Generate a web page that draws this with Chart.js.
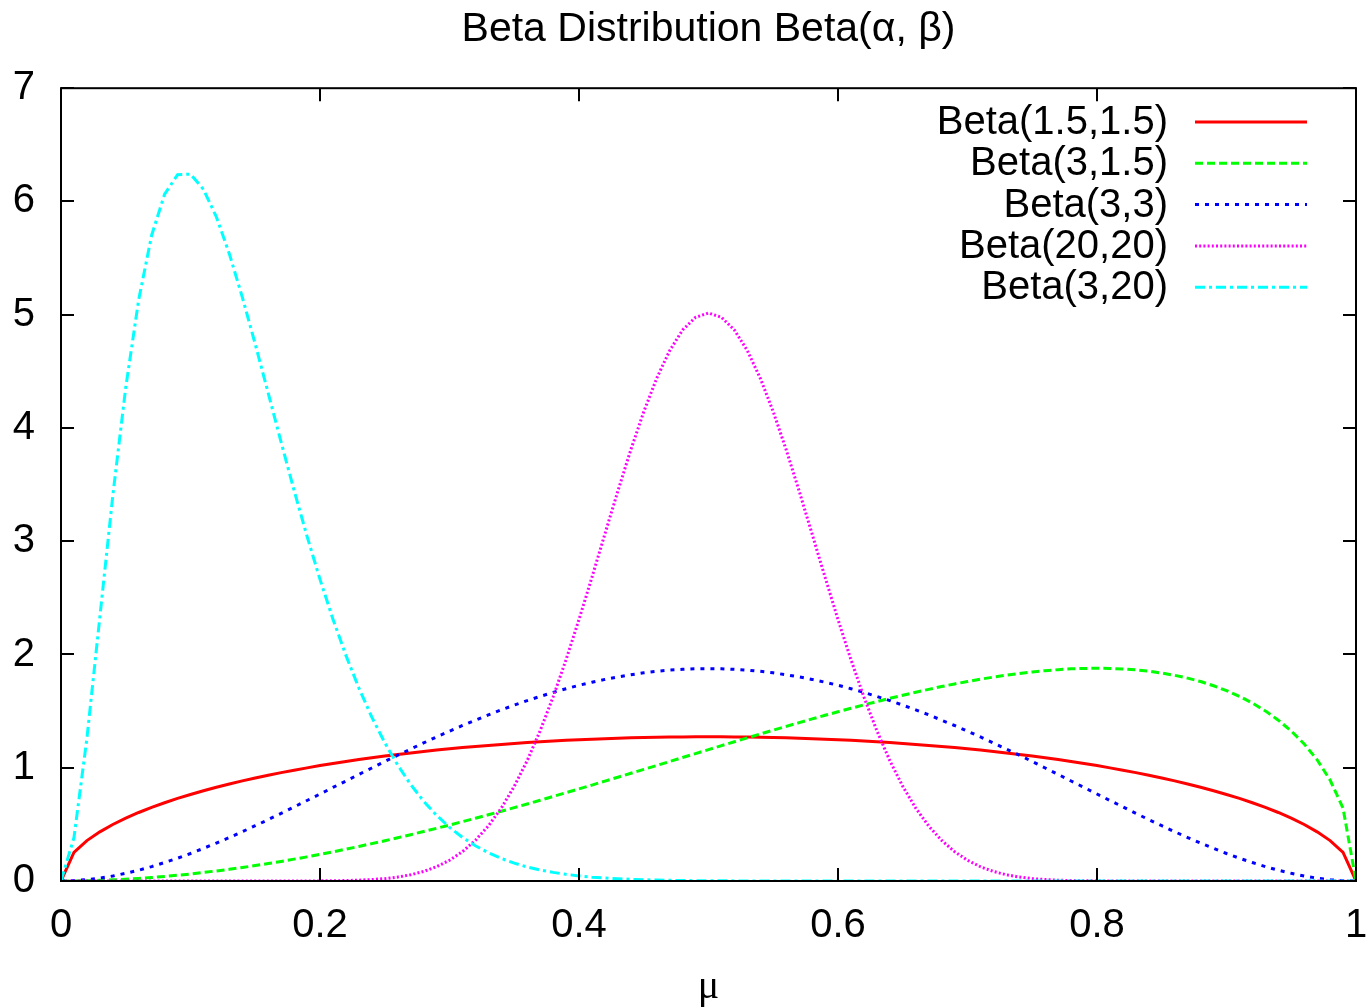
<!DOCTYPE html>
<html>
<head>
<meta charset="utf-8">
<script src="https://cdn.jsdelivr.net/npm/chart.js@4.4.1/dist/chart.umd.min.js"></script>
<style>
  html, body { margin: 0; padding: 0; background: #fff; }
  #wrap { width: 1369px; height: 1007px; }
</style>
</head>
<body>
<div id="wrap"><canvas id="betaChart" width="1369" height="1007"></canvas></div>
<script>
// x positions (mu), step 0.01
const mu = [
  0, 0.01, 0.02, 0.03, 0.04, 0.05, 0.06, 0.07, 0.08, 0.09,
  0.10, 0.11, 0.12, 0.13, 0.14, 0.15, 0.16, 0.17, 0.18, 0.19,
  0.20, 0.21, 0.22, 0.23, 0.24, 0.25, 0.26, 0.27, 0.28, 0.29,
  0.30, 0.31, 0.32, 0.33, 0.34, 0.35, 0.36, 0.37, 0.38, 0.39,
  0.40, 0.41, 0.42, 0.43, 0.44, 0.45, 0.46, 0.47, 0.48, 0.49,
  0.50, 0.51, 0.52, 0.53, 0.54, 0.55, 0.56, 0.57, 0.58, 0.59,
  0.60, 0.61, 0.62, 0.63, 0.64, 0.65, 0.66, 0.67, 0.68, 0.69,
  0.70, 0.71, 0.72, 0.73, 0.74, 0.75, 0.76, 0.77, 0.78, 0.79,
  0.80, 0.81, 0.82, 0.83, 0.84, 0.85, 0.86, 0.87, 0.88, 0.89,
  0.90, 0.91, 0.92, 0.93, 0.94, 0.95, 0.96, 0.97, 0.98, 0.99,
  1.00
];

const beta1515 = [
  0, 0.253, 0.357, 0.434, 0.499, 0.555, 0.605, 0.650, 0.691, 0.729,
  0.764, 0.797, 0.828, 0.856, 0.884, 0.909, 0.934, 0.957, 0.978, 0.999,
  1.019, 1.037, 1.055, 1.072, 1.088, 1.103, 1.117, 1.131, 1.143, 1.156,
  1.167, 1.178, 1.188, 1.197, 1.206, 1.215, 1.222, 1.230, 1.236, 1.242,
  1.248, 1.252, 1.257, 1.261, 1.264, 1.267, 1.269, 1.271, 1.272, 1.273,
  1.273, 1.273, 1.272, 1.271, 1.269, 1.267, 1.264, 1.261, 1.257, 1.252,
  1.248, 1.242, 1.236, 1.230, 1.222, 1.215, 1.206, 1.197, 1.188, 1.178,
  1.167, 1.156, 1.143, 1.131, 1.117, 1.103, 1.088, 1.072, 1.055, 1.037,
  1.019, 0.999, 0.978, 0.957, 0.934, 0.909, 0.884, 0.856, 0.828, 0.797,
  0.764, 0.729, 0.691, 0.650, 0.605, 0.555, 0.499, 0.434, 0.357, 0.253,
  0
];

const beta315 = [
  0, 0.001, 0.003, 0.006, 0.010, 0.016, 0.023, 0.031, 0.040, 0.051,
  0.062, 0.075, 0.089, 0.103, 0.119, 0.136, 0.154, 0.173, 0.193, 0.213,
  0.235, 0.257, 0.281, 0.305, 0.330, 0.355, 0.382, 0.409, 0.437, 0.465,
  0.494, 0.524, 0.554, 0.585, 0.616, 0.648, 0.680, 0.713, 0.746, 0.780,
  0.813, 0.847, 0.882, 0.916, 0.951, 0.986, 1.020, 1.055, 1.090, 1.125,
  1.160, 1.195, 1.229, 1.264, 1.298, 1.332, 1.365, 1.398, 1.431, 1.463,
  1.494, 1.525, 1.555, 1.584, 1.613, 1.640, 1.667, 1.692, 1.717, 1.740,
  1.761, 1.782, 1.800, 1.817, 1.832, 1.846, 1.857, 1.866, 1.873, 1.877,
  1.878, 1.877, 1.872, 1.864, 1.852, 1.836, 1.816, 1.791, 1.761, 1.724,
  1.681, 1.630, 1.571, 1.502, 1.420, 1.324, 1.210, 1.070, 0.891, 0.643,
  0
];

const beta33 = [
  0, 0.003, 0.012, 0.025, 0.044, 0.068, 0.095, 0.127, 0.163, 0.201,
  0.243, 0.288, 0.335, 0.384, 0.435, 0.488, 0.542, 0.597, 0.654, 0.711,
  0.768, 0.826, 0.883, 0.941, 0.998, 1.055, 1.111, 1.165, 1.219, 1.272,
  1.323, 1.373, 1.420, 1.467, 1.511, 1.553, 1.593, 1.630, 1.665, 1.698,
  1.728, 1.755, 1.780, 1.802, 1.821, 1.838, 1.851, 1.862, 1.869, 1.874,
  1.875, 1.874, 1.869, 1.862, 1.851, 1.838, 1.821, 1.802, 1.780, 1.755,
  1.728, 1.698, 1.665, 1.630, 1.593, 1.553, 1.511, 1.467, 1.420, 1.373,
  1.323, 1.272, 1.219, 1.165, 1.111, 1.055, 0.998, 0.941, 0.883, 0.826,
  0.768, 0.711, 0.654, 0.597, 0.542, 0.488, 0.435, 0.384, 0.335, 0.288,
  0.243, 0.201, 0.163, 0.127, 0.095, 0.068, 0.044, 0.025, 0.012, 0.003,
  0
];

const beta2020 = [
  0, 0, 0, 0, 0, 0, 0, 0, 0, 0,
  0, 0, 0, 0, 0, 0, 0, 0, 0.0002, 0.0005,
  0.001, 0.002, 0.004, 0.007, 0.013, 0.021, 0.035, 0.055, 0.084, 0.126,
  0.183, 0.259, 0.359, 0.486, 0.644, 0.836, 1.063, 1.327, 1.625, 1.954,
  2.309, 2.682, 3.064, 3.443, 3.807, 4.143, 4.439, 4.683, 4.865, 4.977,
  5.015, 4.977, 4.865, 4.683, 4.439, 4.143, 3.807, 3.443, 3.064, 2.682,
  2.309, 1.954, 1.625, 1.327, 1.063, 0.836, 0.644, 0.486, 0.359, 0.259,
  0.183, 0.126, 0.084, 0.055, 0.035, 0.021, 0.013, 0.007, 0.004, 0.002,
  0.001, 0.0005, 0.0002, 0, 0, 0, 0, 0, 0, 0,
  0, 0, 0, 0, 0, 0, 0, 0, 0, 0,
  0
];

const beta320 = [
  0, 0.382, 1.259, 2.331, 3.403, 4.358, 5.133, 5.702, 6.064, 6.236,
  6.241, 6.107, 5.863, 5.537, 5.155, 4.740, 4.308, 3.873, 3.448, 3.043,
  2.663, 2.312, 1.992, 1.704, 1.447, 1.221, 1.023, 0.852, 0.705, 0.580,
  0.474, 0.385, 0.311, 0.250, 0.199, 0.158, 0.124, 0.097, 0.076, 0.059,
  0.045, 0.034, 0.026, 0.020, 0.015, 0.011, 0.008, 0.006, 0.004, 0.003,
  0.002, 0.002, 0.001, 0.001, 0.001, 0.0005, 0.0004, 0.0003, 0.0002, 0.0001,
  0.0001, 0, 0, 0, 0, 0, 0, 0, 0, 0,
  0, 0, 0, 0, 0, 0, 0, 0, 0, 0,
  0, 0, 0, 0, 0, 0, 0, 0, 0, 0,
  0, 0, 0, 0, 0, 0, 0, 0, 0, 0,
  0
];

const seriesNames = ['Beta(1.5,1.5)', 'Beta(3,1.5)', 'Beta(3,3)', 'Beta(20,20)', 'Beta(3,20)'];
const seriesValues = [beta1515, beta315, beta33, beta2020, beta320];
const seriesColors = ['#ff0000', '#00ff00', '#0000ff', '#ff00ff', '#00ffff'];
const seriesDash = [[], [8, 4], [4, 6], [2, 2.2], [10, 4, 3, 4]];

const FONT = 'Liberation Sans, Arial, Helvetica, sans-serif';

function toXY(ys) {
  return ys.map((v, i) => ({ x: mu[i], y: v }));
}

const datasets = seriesValues.map((ys, i) => ({
  label: seriesNames[i],
  data: toXY(ys),
  borderColor: seriesColors[i],
  backgroundColor: seriesColors[i],
  borderDash: seriesDash[i],
  borderWidth: 3,
  pointRadius: 0,
  tension: 0,
  fill: false,
  order: 5 - i,
}));

// gnuplot-like frame: box, inward mirrored ticks, key in the top right
const gnuFrame = {
  id: 'gnuFrame',
  afterDatasetsDraw(chart) {
    const { ctx, chartArea: a, scales } = chart;
    const xs = scales.x, ys = scales.y;
    ctx.save();
    ctx.strokeStyle = '#000';
    ctx.lineWidth = 2;
    ctx.beginPath();
    xs.ticks.forEach(t => {
      const px = Math.round(xs.getPixelForValue(t.value));
      ctx.moveTo(px, a.bottom); ctx.lineTo(px, a.bottom - 13);
      ctx.moveTo(px, a.top); ctx.lineTo(px, a.top + 13);
    });
    ys.ticks.forEach(t => {
      const py = Math.round(ys.getPixelForValue(t.value));
      ctx.moveTo(a.left, py); ctx.lineTo(a.left + 13, py);
      ctx.moveTo(a.right, py); ctx.lineTo(a.right - 13, py);
    });
    ctx.stroke();
    ctx.strokeRect(a.left, a.top, a.right - a.left, a.bottom - a.top);

    // key
    ctx.font = '40px ' + FONT;
    ctx.textAlign = 'right';
    ctx.textBaseline = 'middle';
    chart.data.datasets.forEach((ds, i) => {
      const yy = 122 + i * 41.3;
      ctx.fillStyle = '#000';
      ctx.fillText(ds.label, 1168, yy + 1);
      ctx.strokeStyle = ds.borderColor;
      ctx.lineWidth = ds.borderWidth;
      ctx.setLineDash(ds.borderDash);
      ctx.beginPath();
      ctx.moveTo(1195, yy);
      ctx.lineTo(1307, yy);
      ctx.stroke();
    });
    ctx.restore();
  }
};

new Chart(document.getElementById('betaChart').getContext('2d'), {
  type: 'line',
  data: { datasets: datasets },
  plugins: [gnuFrame],
  options: {
    responsive: false,
    animation: false,
    devicePixelRatio: 1,
    layout: { padding: { left: 0, right: 13, top: 0, bottom: 0 } },
    plugins: {
      legend: { display: false },
      tooltip: { enabled: false },
      title: {
        display: true,
        fullSize: false,
        text: 'Beta Distribution Beta(α, β)',
        color: '#000',
        font: { family: FONT, size: 41, weight: 'normal', lineHeight: 1.2 },
        padding: { top: 5, bottom: 34 },
      },
    },
    scales: {
      x: {
        type: 'linear',
        min: 0,
        max: 1,
        grid: { display: false, drawTicks: false },
        border: { display: false },
        ticks: {
          stepSize: 0.2,
          color: '#000',
          padding: 21,
          maxRotation: 0,
          font: { family: FONT, size: 40 },
          callback: v => String(Math.round(v * 10) / 10),
        },
        title: {
          display: true,
          text: 'μ',
          color: '#000',
          font: { family: 'Liberation Serif, Times New Roman, serif', size: 40, lineHeight: 1 },
          padding: { top: 0, bottom: 0 },
        },
        afterFit(scale) {
          scale.height = 126;
          scale.paddingLeft = 0;
          scale.paddingRight = 0;
        },
      },
      y: {
        type: 'linear',
        min: 0,
        max: 7,
        grid: { display: false, drawTicks: false },
        border: { display: false },
        ticks: {
          stepSize: 1,
          color: '#000',
          padding: 26,
          font: { family: FONT, size: 40 },
        },
        afterFit(scale) { scale.width = 61; },
      },
    },
  },
});
</script>
</body>
</html>
